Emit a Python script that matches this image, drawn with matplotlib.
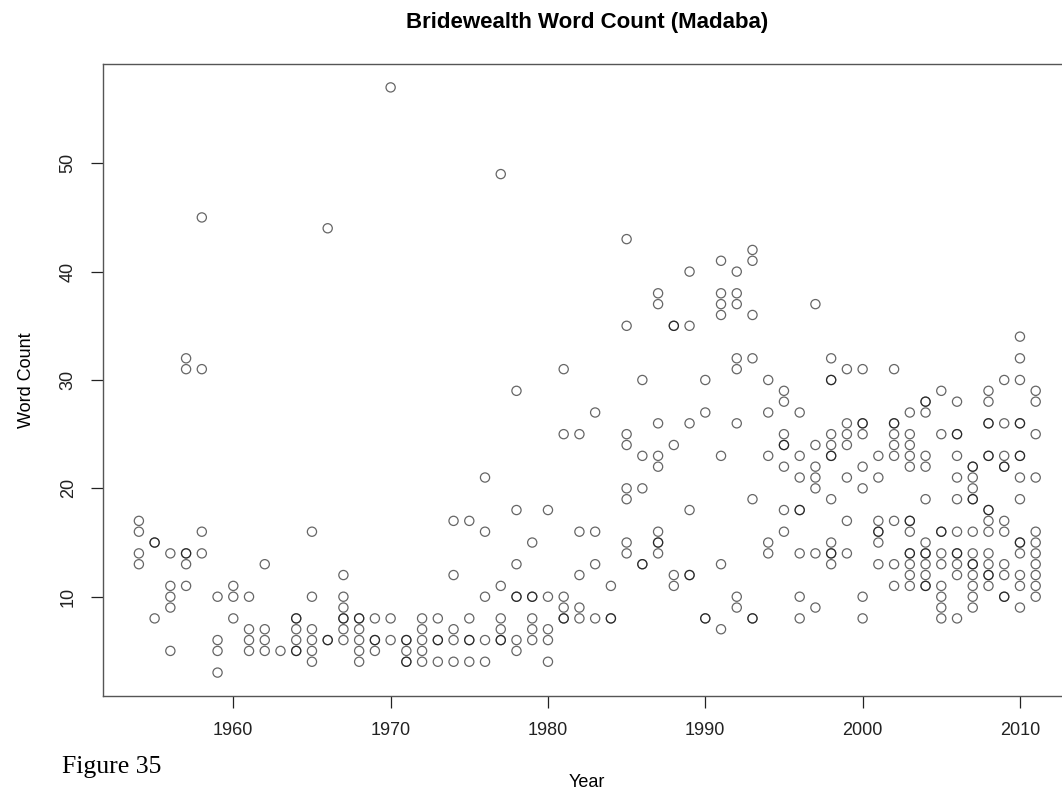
import matplotlib
matplotlib.use("Agg")
import matplotlib.pyplot as plt

# word counts per year (repeated values = overplotted points)
years = list(range(1954, 2012))
counts_by_year = [
    [17, 16, 14, 13],                      # 1954
    [15, 15, 8],                           # 1955
    [14, 11, 10, 9, 5],                    # 1956
    [32, 31, 14, 14, 13, 11],              # 1957
    [45, 31, 16, 14],                      # 1958
    [10, 6, 5, 3],                         # 1959
    [11, 10, 8],                           # 1960
    [10, 7, 6, 5],                         # 1961
    [13, 7, 6, 5],                         # 1962
    [5],                                   # 1963
    [8, 8, 7, 6, 5, 5],                    # 1964
    [16, 10, 7, 6, 5, 4],                  # 1965
    [44, 6, 6],                            # 1966
    [12, 10, 9, 8, 8, 7, 6],               # 1967
    [8, 8, 7, 6, 5, 4],                    # 1968
    [8, 6, 6, 5],                          # 1969
    [57, 8, 6],                            # 1970
    [6, 6, 5, 4, 4],                       # 1971
    [8, 7, 6, 5, 4],                       # 1972
    [8, 6, 6, 4],                          # 1973
    [17, 12, 7, 6, 4],                     # 1974
    [17, 8, 6, 6, 4],                      # 1975
    [21, 16, 10, 6, 4],                    # 1976
    [49, 11, 8, 7, 6, 6],                  # 1977
    [29, 18, 13, 10, 10, 6, 5],            # 1978
    [15, 10, 10, 8, 7, 6],                 # 1979
    [18, 10, 7, 6, 4],                     # 1980
    [31, 25, 10, 9, 8, 8],                 # 1981
    [25, 16, 12, 9, 8],                    # 1982
    [27, 16, 13, 8],                       # 1983
    [11, 8, 8],                            # 1984
    [43, 35, 25, 24, 20, 19, 15, 14],      # 1985
    [30, 23, 20, 13, 13],                  # 1986
    [38, 37, 26, 23, 22, 16, 15, 15, 14],  # 1987
    [35, 35, 24, 12, 11],                  # 1988
    [40, 35, 26, 18, 12, 12],              # 1989
    [30, 27, 8, 8],                        # 1990
    [41, 38, 37, 36, 23, 13, 7],           # 1991
    [40, 38, 37, 32, 31, 26, 10, 9],       # 1992
    [42, 41, 36, 32, 19, 8, 8],            # 1993
    [30, 27, 23, 15, 14],                  # 1994
    [29, 28, 25, 24, 24, 22, 18, 16],      # 1995
    [27, 23, 21, 18, 18, 14, 10, 8],       # 1996
    [37, 24, 22, 21, 20, 14, 9],           # 1997
    [32, 30, 30, 25, 24, 23, 23, 19, 15, 14, 14, 13],       # 1998
    [31, 26, 25, 24, 21, 17, 14],                           # 1999
    [31, 26, 26, 25, 22, 20, 10, 8],                        # 2000
    [23, 21, 17, 16, 16, 15, 13],                           # 2001
    [31, 26, 26, 25, 24, 23, 17, 13, 11],                   # 2002
    [27, 25, 24, 23, 22, 17, 17, 16, 14, 14, 13, 12, 11],   # 2003
    [28, 28, 27, 23, 22, 19, 15, 14, 14, 13, 12, 11, 11],   # 2004
    [29, 25, 16, 16, 14, 13, 11, 10, 9, 8],                 # 2005
    [28, 25, 25, 23, 21, 19, 16, 14, 14, 13, 12, 8],        # 2006
    [22, 22, 21, 20, 19, 19, 16, 14, 13, 13, 12, 11, 10, 9],        # 2007
    [29, 28, 26, 26, 23, 23, 18, 18, 17, 16, 14, 13, 12, 12, 11],   # 2008
    [30, 26, 23, 22, 22, 17, 16, 13, 12, 10, 10],                   # 2009
    [34, 32, 30, 26, 26, 23, 23, 21, 19, 15, 15, 14, 12, 11, 9],    # 2010
    [29, 28, 25, 21, 16, 15, 14, 13, 12, 11, 10],                   # 2011
]
x_ticks = [1960, 1970, 1980, 1990, 2000, 2010]
y_ticks = [10, 20, 30, 40, 50]

x = []
y = []
for yr, counts in zip(years, counts_by_year):
    for c in counts:
        x.append(yr)
        y.append(c)

plt.rcParams["font.family"] = ["Liberation Sans", "DejaVu Sans"]

fig = plt.figure(figsize=(10.62, 7.9), dpi=100)
# plot region runs past the right edge, like the cropped original
ax = fig.add_axes([0.097, 0.119, 0.912, 0.8])

ax.scatter(x, y, s=44, facecolors="none", edgecolors="black", linewidths=0.9, alpha=0.6)

ax.set_xlim(1951.72, 2013.28)
ax.set_ylim(0.84, 59.16)
ax.set_xticks(x_ticks)
ax.set_yticks(y_ticks)
ax.set_yticklabels([str(v) for v in y_ticks], rotation=90, va="center")
ax.tick_params(direction="out", length=8.5, width=0.9, labelsize=13, colors="#222222", pad=10.5)
for s in ax.spines.values():
    s.set_color("#555555")
    s.set_linewidth(1.0)

ax.set_xlabel("Year", fontsize=13, labelpad=25)
ax.set_ylabel("Word Count", fontsize=13, labelpad=18)
fig.text(0.553, 0.971, "Bridewealth Word Count (Madaba)", fontsize=16, fontweight="bold",
         ha="center", va="center")
fig.text(0.058, 0.0215, "Figure 35", fontsize=18.5, family="Liberation Serif", ha="left", va="baseline")

fig.savefig("out.png", dpi=100)
